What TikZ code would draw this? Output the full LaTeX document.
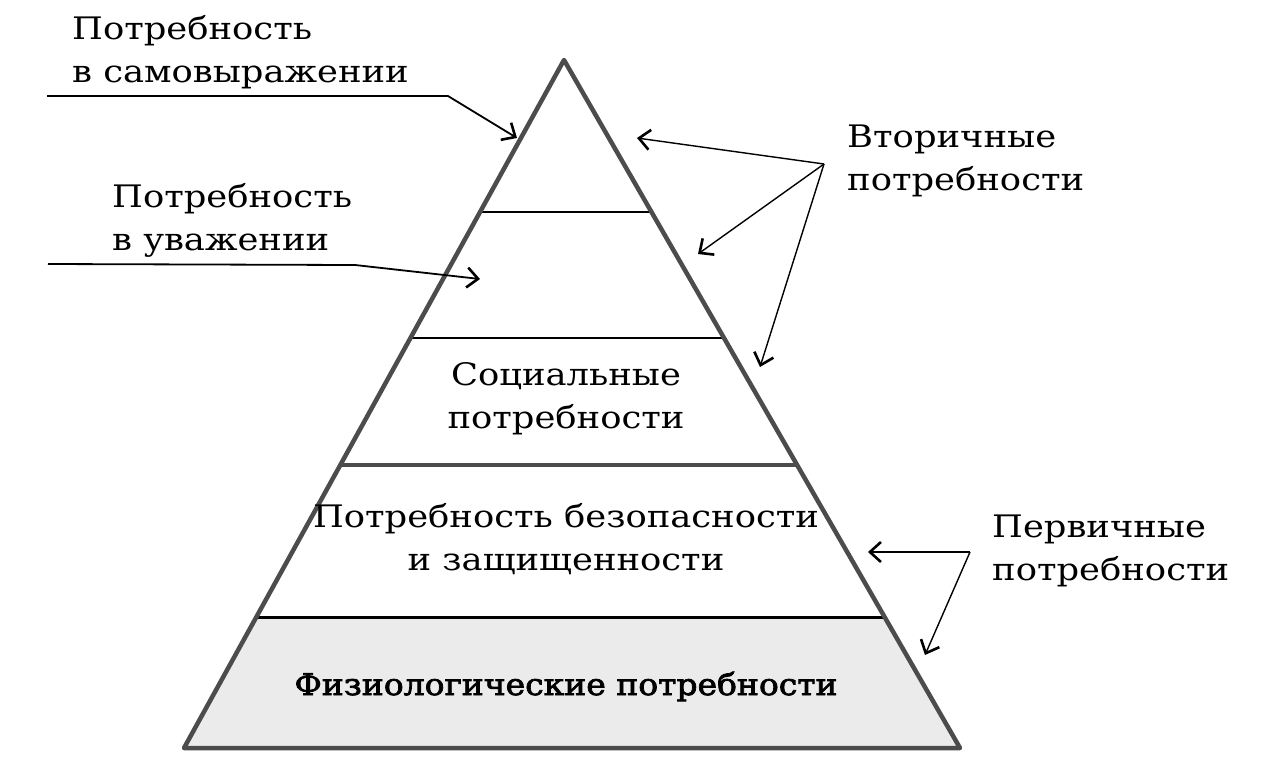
\documentclass[tikz,border=0pt]{standalone}
\usepackage{fontspec}
\setmainfont{DejaVu Serif}[FakeStretch=1.14]
\newfontfamily\physfont{DejaVu Serif}[FakeStretch=1.1, FakeBold=2.5]
\usetikzlibrary{arrows.meta, calc}

\begin{document}
\begin{tikzpicture}[x=1pt, y=-1pt, >={Straight Barb[length=11pt, width=20pt, line width=2.6pt]},
    every node/.style={inner sep=0pt, font=\fontsize{31}{43}\selectfont},
    sideline/.style={draw=black!70, line width=4.5pt, line join=round, line cap=round},
    tier/.style={line width=1.8pt},
    pointer/.style={->, line width=1.4pt}]
        \useasboundingbox (0,0) rectangle (1275,769);

        % pyramid corners and tier ends
        \coordinate (top) at (564,60);
        \coordinate (bl) at (184,748);
        \coordinate (br) at (960,748);
        \foreach \n/\y in {a/212, b/338, c/465, d/617} {
            \coordinate (l\n) at ($(top)!{(\y-60)/688}!(bl)$);
            \coordinate (r\n) at ($(top)!{(\y-60)/688}!(br)$);
        }

        % shaded base tier
        \fill[black!8] (ld) -- (rd) -- (br) -- (bl) -- cycle;

        % tier lines
        \draw[tier] (la) -- (ra);
        \draw[tier] (lb) -- (rb);
        \draw[sideline, line width=4pt] (lc) -- (rc);
        \draw[line width=3pt] (ld) -- (rd);

        % pyramid outline
        \draw[sideline] (bl) -- (top) -- (br) -- cycle;

        % tier texts (base = last line)
        \node[align=center, anchor=base] (social) at (566,428) {Социальные\\потребности};
        \node[align=center, anchor=base] (safety) at (566,570) {Потребность безопасности\\и защищенности};
        \node[anchor=base, font=\fontsize{30}{43}\physfont] (physio) at (566,695) {Физиологические потребности};

        % side notes
        \node[align=left, anchor=base west] (selfnote) at (72,82) {Потребность\\в самовыражении};
        \node[align=left, anchor=base west] (esteemnote) at (112,250) {Потребность\\в уважении};
        \node[align=left, anchor=base west] (secnote) at (847,190) {Вторичные\\потребности};
        \node[align=left, anchor=base west] (prinote) at (992,580) {Первичные\\потребности};

        % leader lines of the left notes
        \coordinate (s0) at (47,96);
        \coordinate (s1) at (448,96);
        \coordinate (stip) at (517,138);
        \coordinate (e0) at (48,264);
        \coordinate (e1) at (355,265);
        \coordinate (etip) at (480,279);
        \draw[pointer, line width=1.8pt] (s0) -- (s1) -- (stip);
        \draw[pointer, line width=1.8pt] (e0) -- (e1) -- (etip);

        % secondary needs
        \coordinate (sec) at (824,164);
        \coordinate (sec1) at (637,138);
        \coordinate (sec2) at (698,254);
        \coordinate (sec3) at (760,367);
        \draw[pointer] (sec) -- (sec1);
        \draw[pointer] (sec) -- (sec2);
        \draw[pointer] (sec) -- (sec3);

        % primary needs
        \coordinate (pri) at (970,552);
        \coordinate (pri1) at (868,552);
        \coordinate (pri2) at (925,655);
        \draw[pointer] (pri) -- (pri1);
        \draw[pointer] (pri) -- (pri2);
\end{tikzpicture}
\end{document}
